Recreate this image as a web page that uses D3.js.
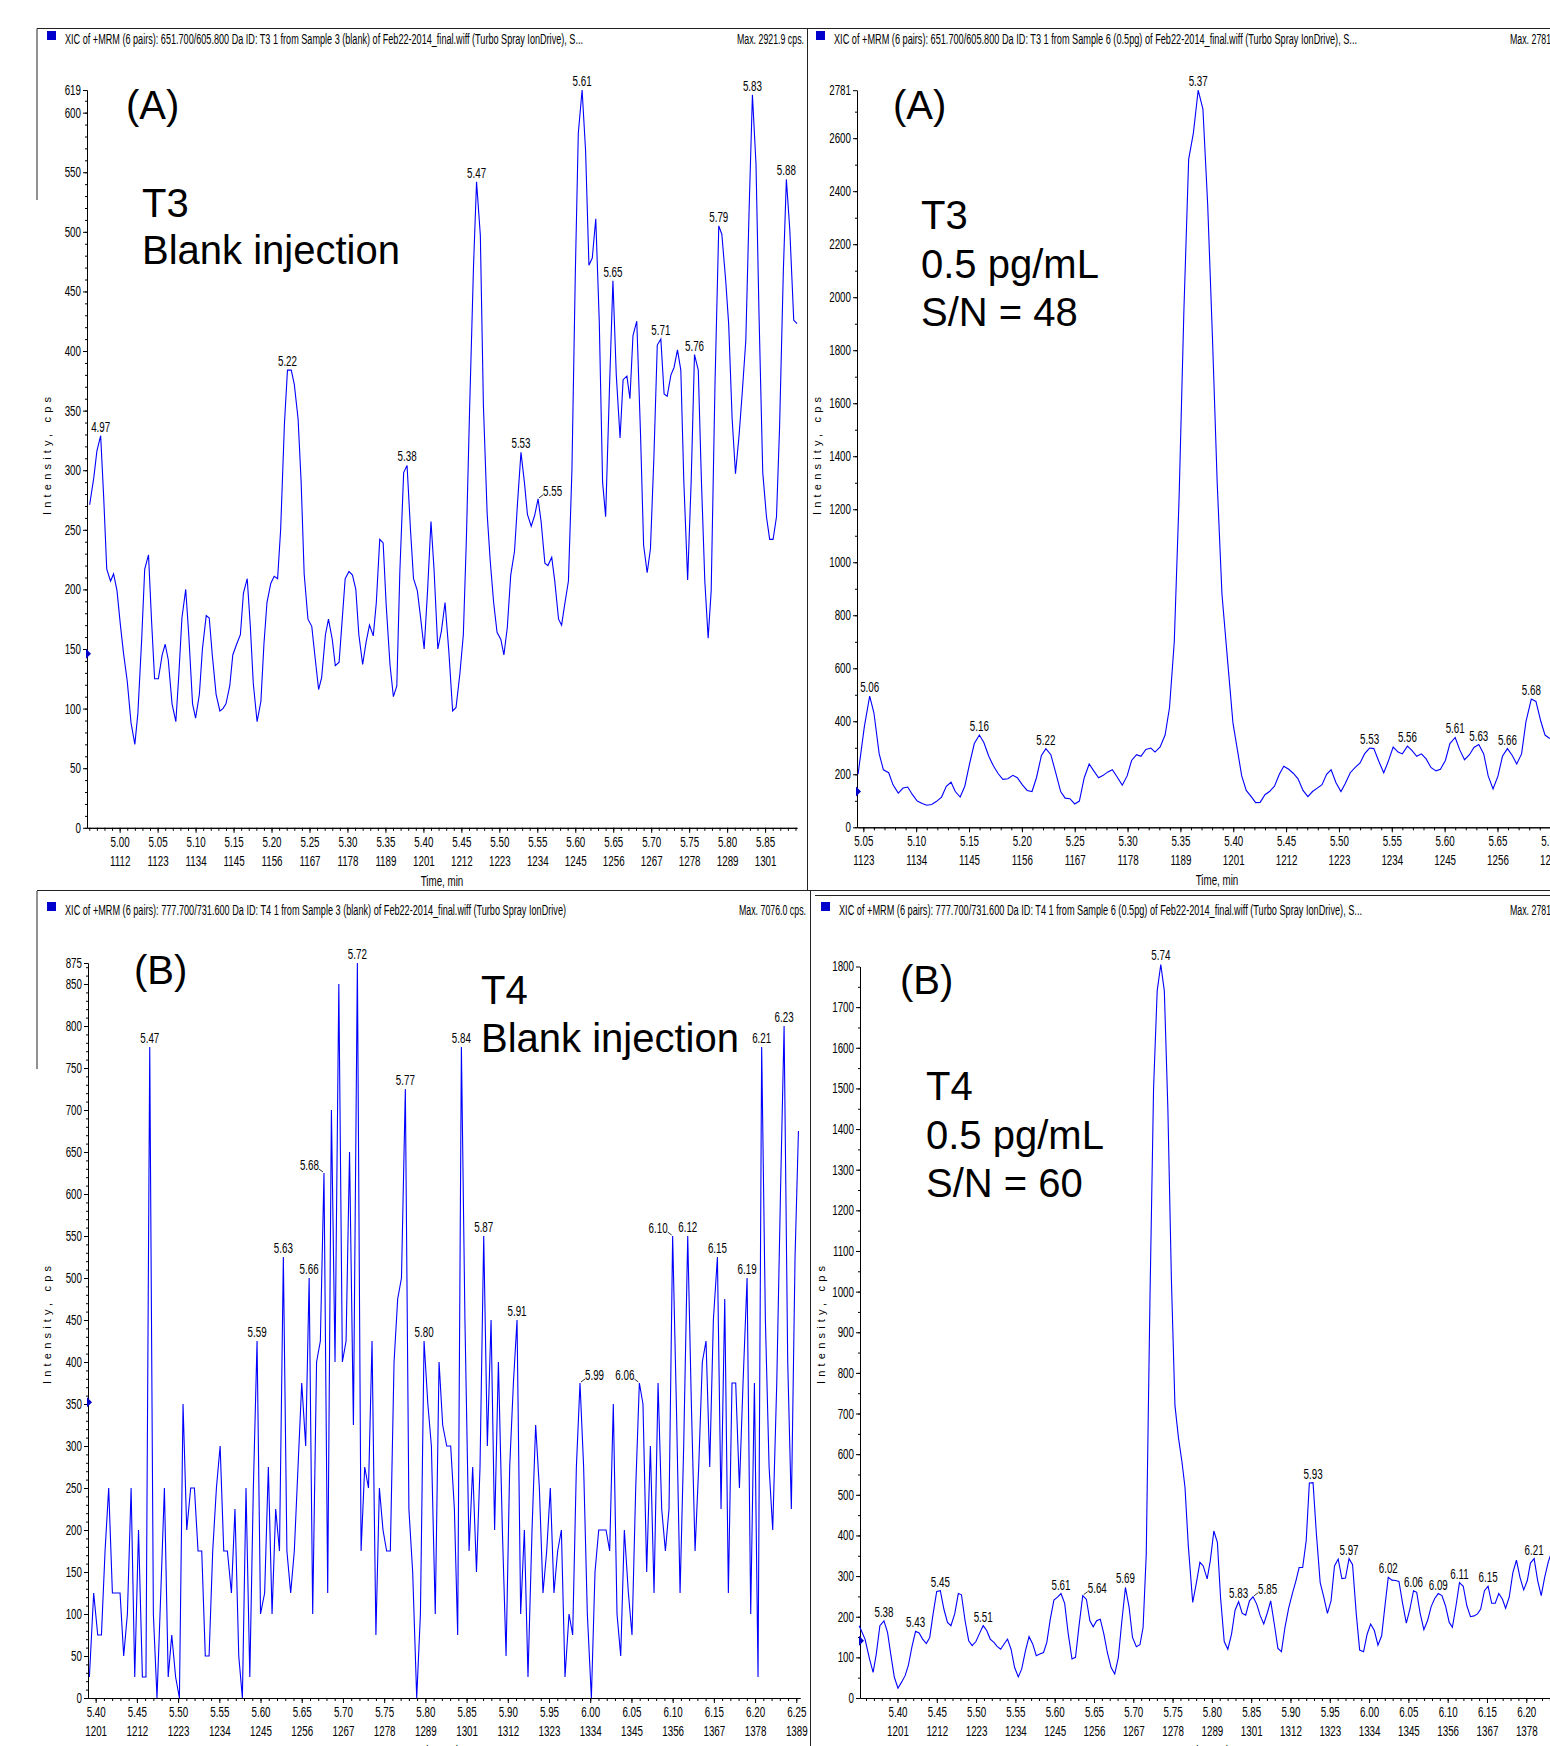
<!DOCTYPE html>
<html>
<head>
<meta charset="utf-8">
<script src="https://cdn.jsdelivr.net/npm/d3@7"></script>
<style>
  body { margin: 0; background: #fff; }
  text { font-family: "Liberation Sans", Arial, sans-serif; }
</style>
</head>
<body>
<div id="chart"></div>
<script>
// ---- data: [time (min), intensity (cps)] ----
const t3Blank = [
  [4.9605,271],[4.966,294],[4.970,316],[4.975,329],[4.979,277],[4.983,217],[4.988,207],[4.992,213],[4.9965,199],
  [5.001,170],[5.005,147],[5.010,123],[5.015,88],[5.020,70],[5.024,96],[5.029,158],[5.033,217],[5.038,229],
  [5.042,174],[5.046,125],[5.051,125],[5.056,145],[5.060,154],[5.064,141],[5.069,104],[5.074,89],[5.078,129],
  [5.082,176],[5.087,200],[5.091,162],[5.096,104],[5.100,92],[5.105,112],[5.109,150],[5.114,178],[5.118,176],
  [5.122,145],[5.127,112],[5.132,98],[5.136,100],[5.140,104],[5.145,119],[5.149,145],[5.154,154],[5.159,162],
  [5.163,197],[5.168,209],[5.172,170],[5.176,121],[5.181,89],[5.186,106],[5.190,154],[5.194,189],[5.199,205],
  [5.2035,211],[5.208,209],[5.212,250],[5.217,339],[5.221,384],[5.226,384],[5.230,372],[5.235,343],[5.239,290],
  [5.243,213],[5.248,175],[5.253,169],[5.257,145],[5.262,116],[5.266,126],[5.271,162],[5.275,175],[5.280,158],
  [5.284,136],[5.289,139],[5.293,174],[5.297,209],[5.302,215],[5.3066,212],[5.311,200],[5.315,162],[5.320,137],
  [5.3246,156],[5.329,170],[5.334,161],[5.338,189],[5.3425,242],[5.347,239],[5.351,187],[5.356,137],[5.3605,110],
  [5.365,119],[5.369,215],[5.374,298],[5.3785,304],[5.383,250],[5.387,209],[5.392,199],[5.396,178],[5.401,150],
  [5.4055,199],[5.410,257],[5.414,217],[5.419,150],[5.4237,165],[5.4285,189],[5.4335,148],[5.4385,98],[5.443,101],
  [5.448,129],[5.4526,162],[5.4566,242],[5.461,355],[5.466,471],[5.470,542],[5.475,497],[5.479,355],[5.484,263],
  [5.488,224],[5.4925,189],[5.497,164],[5.502,158],[5.506,145],[5.5105,168],[5.515,212],[5.520,232],[5.524,273],
  [5.5285,315],[5.533,290],[5.537,263],[5.542,253],[5.5465,262],[5.551,276],[5.555,257],[5.560,222],[5.564,220],
  [5.569,227],[5.573,207],[5.578,175],[5.582,170],[5.586,187],[5.591,207],[5.5956,300],[5.600,463],[5.604,583],
  [5.609,619],[5.6136,568],[5.618,472],[5.6224,478],[5.627,511],[5.6316,425],[5.636,290],[5.640,261],[5.645,368],
  [5.6496,459],[5.654,380],[5.659,327],[5.663,376],[5.668,379],[5.672,360],[5.676,413],[5.681,425],[5.686,329],
  [5.690,237],[5.6947,214],[5.699,234],[5.7035,310],[5.708,405],[5.7127,410],[5.717,364],[5.721,362],[5.726,380],
  [5.730,386],[5.7346,401],[5.739,384],[5.743,290],[5.748,208],[5.7526,290],[5.757,397],[5.762,384],[5.766,294],
  [5.7706,207],[5.775,159],[5.779,199],[5.784,372],[5.789,505],[5.793,498],[5.798,460],[5.802,423],[5.8066,343],
  [5.811,297],[5.8157,329],[5.820,366],[5.8246,409],[5.829,520],[5.8333,615],[5.838,557],[5.842,430],[5.8469,298],
  [5.8518,261],[5.856,242],[5.8605,242],[5.865,261],[5.869,335],[5.874,467],[5.878,544],[5.8825,502],[5.8877,426],
  [5.892,423]
];

const t3Spiked = [
  [5.045,200],[5.051,381],[5.056,495],[5.060,432],[5.065,277],[5.069,217],[5.074,206],[5.078,161],[5.083,129],
  [5.0876,148],[5.092,152],[5.0965,123],[5.101,99],[5.1057,90],[5.110,83],[5.1146,86],[5.119,97],[5.124,114],
  [5.1285,155],[5.133,170],[5.137,135],[5.1416,114],[5.146,155],[5.1505,239],[5.155,316],[5.1598,348],[5.164,320],
  [5.1687,268],[5.173,232],[5.1775,203],[5.182,181],[5.1868,183],[5.1915,196],[5.1957,187],[5.2003,161],[5.205,139],
  [5.2096,135],[5.2138,187],[5.2185,271],[5.2227,297],[5.2274,274],[5.232,206],[5.2367,135],[5.2409,110],[5.2455,108],
  [5.250,88],[5.2544,99],[5.259,187],[5.2637,239],[5.268,213],[5.2726,187],[5.277,196],[5.2814,209],[5.2856,217],
  [5.290,191],[5.295,159],[5.2996,194],[5.3038,252],[5.3085,274],[5.3127,268],[5.3173,294],[5.322,299],[5.326,284],
  [5.3308,303],[5.3355,348],[5.3397,452],[5.3442,700],[5.3488,1250],[5.3533,1950],[5.3578,2520],[5.3623,2620],
  [5.3668,2781],[5.3713,2710],[5.3758,2350],[5.3803,1850],[5.3848,1300],[5.3893,880],[5.3954,594],[5.3997,394],
  [5.404,290],[5.408,194],[5.4123,139],[5.417,116],[5.4212,93],[5.4254,94],[5.430,123],[5.4343,135],[5.439,155],
  [5.4436,200],[5.4478,230],[5.4525,219],[5.457,203],[5.4613,183],[5.466,139],[5.4706,116],[5.475,135],[5.4795,148],
  [5.484,161],[5.4883,200],[5.4926,217],[5.4972,168],[5.5019,135],[5.506,165],[5.5107,206],[5.5154,226],[5.52,243],
  [5.5242,277],[5.529,299],[5.533,297],[5.5378,248],[5.5424,206],[5.5466,248],[5.5513,303],[5.556,284],[5.560,277],
  [5.5648,306],[5.569,290],[5.5736,268],[5.578,277],[5.5825,258],[5.587,226],[5.5918,213],[5.596,219],[5.6007,252],
  [5.605,316],[5.61,339],[5.6142,293],[5.6188,255],[5.6235,274],[5.6277,301],[5.6323,312],[5.637,277],[5.6412,194],
  [5.6458,145],[5.6505,194],[5.6547,268],[5.6594,297],[5.664,271],[5.6682,239],[5.6728,277],[5.677,400],[5.682,484],
  [5.6864,475],[5.691,400],[5.695,348],[5.6995,335]
];

const t4Blank = [
  [5.3924,25],[5.3976,125],[5.4025,75],[5.407,75],[5.4114,175],[5.4158,250],[5.4203,125],[5.4247,125],[5.4296,125],
  [5.434,50],[5.4385,100],[5.443,250],[5.4474,25],[5.452,200],[5.4567,25],[5.461,25],[5.4656,775],[5.470,100],
  [5.4744,0],[5.479,125],[5.4834,250],[5.488,25],[5.4923,75],[5.497,25],[5.5016,0],[5.506,350],[5.5105,200],
  [5.5153,250],[5.5198,250],[5.5242,175],[5.5287,175],[5.533,50],[5.5376,50],[5.542,175],[5.5465,250],[5.551,300],
  [5.5554,175],[5.5598,175],[5.5647,125],[5.569,225],[5.5736,50],[5.578,0],[5.5824,250],[5.587,25],[5.5913,250],
  [5.5958,425],[5.6,100],[5.605,125],[5.6095,275],[5.614,100],[5.6184,225],[5.623,175],[5.6277,525],[5.632,175],
  [5.6366,125],[5.641,175],[5.6455,275],[5.65,375],[5.6548,300],[5.659,500],[5.6633,100],[5.668,400],[5.6726,425],
  [5.677,625],[5.6815,125],[5.686,700],[5.6904,400],[5.695,850],[5.6993,400],[5.7038,425],[5.708,650],[5.7127,325],
  [5.7175,875],[5.722,175],[5.7264,275],[5.731,250],[5.7353,425],[5.74,75],[5.7442,250],[5.7486,200],[5.753,175],
  [5.7575,175],[5.762,400],[5.7664,475],[5.771,500],[5.7757,725],[5.780,225],[5.7846,150],[5.7895,0],[5.794,100],
  [5.7984,425],[5.803,350],[5.8073,300],[5.812,100],[5.8166,400],[5.821,325],[5.8259,300],[5.8307,300],[5.8352,225],
  [5.8392,75],[5.8437,775],[5.848,450],[5.853,175],[5.8574,275],[5.862,150],[5.8663,275],[5.8708,550],[5.8752,300],
  [5.8797,450],[5.884,200],[5.8886,400],[5.8934,200],[5.8979,50],[5.9023,275],[5.9068,375],[5.9112,450],[5.9156,100],
  [5.9201,200],[5.9245,25],[5.9294,200],[5.9338,325],[5.9383,250],[5.9427,125],[5.9472,175],[5.9516,250],[5.956,125],
  [5.9605,175],[5.965,200],[5.9694,25],[5.9743,100],[5.9787,75],[5.9832,275],[5.9876,375],[5.992,275],[5.9965,100],
  [6.0014,0],[6.0058,150],[6.0103,200],[6.0147,200],[6.0192,200],[6.0236,175],[6.028,350],[6.0325,100],[6.037,50],
  [6.0414,200],[6.0463,125],[6.0507,75],[6.0552,250],[6.0596,375],[6.064,350],[6.0685,150],[6.073,300],[6.0774,125],
  [6.0823,375],[6.0867,225],[6.0912,175],[6.0956,225],[6.1,550],[6.1045,350],[6.109,125],[6.1134,300],[6.1183,550],
  [6.1227,350],[6.1272,175],[6.1316,275],[6.136,400],[6.1405,425],[6.145,275],[6.1494,450],[6.1543,525],[6.1587,225],
  [6.1632,475],[6.1676,125],[6.172,375],[6.1765,375],[6.181,250],[6.1854,375],[6.1903,500],[6.1947,100],[6.1992,375],
  [6.2036,25],[6.208,775],[6.2125,450],[6.217,275],[6.2214,200],[6.2263,375],[6.2308,600],[6.2352,800],[6.2396,400],
  [6.244,225],[6.2485,525],[6.2526,675]
];

const t4Spiked = [
  [5.3513,178],[5.3587,145],[5.3644,96],[5.369,63],[5.373,108],[5.3776,178],[5.3828,190],[5.3874,161],[5.3914,108],
  [5.396,51],[5.4006,24],[5.4052,39],[5.4097,55],[5.4138,80],[5.4183,125],[5.423,164],[5.4275,160],[5.432,145],
  [5.4367,134],[5.441,149],[5.4453,207],[5.4499,262],[5.4545,264],[5.459,219],[5.4636,186],[5.468,178],[5.4728,207],
  [5.4774,257],[5.4814,254],[5.486,190],[5.4906,141],[5.495,129],[5.4998,139],[5.5044,159],[5.509,178],[5.5135,166],
  [5.518,145],[5.5227,137],[5.5267,127],[5.5313,120],[5.536,134],[5.540,145],[5.5445,120],[5.549,75],[5.5537,52],
  [5.558,71],[5.5628,116],[5.5674,151],[5.572,133],[5.5766,104],[5.581,108],[5.5858,112],[5.590,137],[5.5944,194],
  [5.599,241],[5.6036,248],[5.608,257],[5.6127,233],[5.6173,157],[5.622,96],[5.6265,100],[5.631,178],[5.6357,252],
  [5.6403,243],[5.6448,190],[5.649,175],[5.6534,190],[5.658,194],[5.6626,157],[5.667,112],[5.6718,75],[5.6764,59],
  [5.681,100],[5.6855,190],[5.690,272],[5.6947,223],[5.699,149],[5.7039,126],[5.7085,131],[5.7125,174],[5.7165,354],
  [5.7212,980],[5.7258,1500],[5.7304,1740],[5.735,1805],[5.7395,1740],[5.744,1450],[5.7485,1030],[5.753,720],
  [5.7575,640],[5.762,580],[5.7658,518],[5.770,375],[5.7756,235],[5.780,280],[5.7848,334],[5.789,325],[5.794,293],
  [5.798,338],[5.8025,411],[5.807,383],[5.811,248],[5.8157,139],[5.8203,120],[5.825,157],[5.8295,216],[5.834,237],
  [5.8386,208],[5.843,204],[5.8478,239],[5.8524,249],[5.857,231],[5.8616,202],[5.866,182],[5.8708,211],[5.8748,239],
  [5.8794,182],[5.884,122],[5.8885,114],[5.893,174],[5.8977,221],[5.9023,256],[5.907,289],[5.911,321],[5.9155,321],
  [5.920,387],[5.924,529],[5.9287,530],[5.933,403],[5.9378,284],[5.9424,248],[5.947,208],[5.9516,239],[5.956,325],
  [5.9607,342],[5.9654,294],[5.970,295],[5.9745,343],[5.979,328],[5.9837,207],[5.988,118],[5.993,114],[5.9975,157],
  [6.002,182],[6.0067,166],[6.0113,130],[6.016,153],[6.020,223],[6.0244,297],[6.029,290],[6.0336,289],[6.038,287],
  [6.0428,231],[6.0474,184],[6.052,219],[6.0565,264],[6.0606,260],[6.065,208],[6.0697,168],[6.0743,190],[6.079,225],
  [6.0835,245],[6.088,257],[6.0927,252],[6.0972,227],[6.102,186],[6.106,174],[6.1106,227],[6.115,284],[6.1198,275],
  [6.1244,227],[6.129,200],[6.1336,202],[6.138,207],[6.142,219],[6.1468,264],[6.1514,275],[6.156,233],[6.1605,233],
  [6.165,257],[6.1697,243],[6.1737,221],[6.1783,248],[6.183,309],[6.1875,339],[6.192,297],[6.1967,266],[6.2013,289],
  [6.2053,332],[6.21,343],[6.2145,289],[6.219,252],[6.2234,297],[6.228,335],[6.2326,362],[6.237,399]
];

// peak labels: [text, time of the labelled scan]
const t3BlankPeaks = [["4.97",4.975],["5.22",5.221],["5.38",5.3785],["5.47",5.470],["5.53",5.5285],["5.55",5.551],
  ["5.61",5.609],["5.65",5.6496],["5.71",5.7127],["5.76",5.757],["5.79",5.789],["5.83",5.8333],["5.88",5.878]];
const t3SpikedPeaks = [["5.06",5.056],["5.16",5.1598],["5.22",5.2227],["5.37",5.3668],["5.53",5.529],["5.56",5.5648],
  ["5.61",5.61],["5.63",5.6323],["5.66",5.6594],["5.68",5.682]];
const t4BlankPeaks = [["5.47",5.4656],["5.59",5.5958],["5.63",5.6277],["5.66",5.659],["5.68",5.677],["5.72",5.7175],
  ["5.77",5.7757],["5.80",5.7984],["5.84",5.8437],["5.87",5.8708],["5.91",5.9112],["5.99",5.9876],["6.06",6.0596],
  ["6.10",6.1],["6.12",6.1183],["6.15",6.1543],["6.19",6.1903],["6.21",6.208],["6.23",6.2352]];
const t4SpikedPeaks = [["5.38",5.3828],["5.43",5.423],["5.45",5.4545],["5.51",5.509],["5.61",5.608],["5.64",5.6357],
  ["5.69",5.690],["5.74",5.735],["5.83",5.834],["5.85",5.8524],["5.93",5.9287],["5.97",5.9745],["6.02",6.0244],
  ["6.06",6.0565],["6.09",6.088],["6.11",6.115],["6.15",6.1514],["6.21",6.21]];

// axis tick labels
const t3BlankTimeTicks = [5.00,5.05,5.10,5.15,5.20,5.25,5.30,5.35,5.40,5.45,5.50,5.55,5.60,5.65,5.70,5.75,5.80,5.85];
const t3BlankScanTicks = [1112,1123,1134,1145,1156,1167,1178,1189,1201,1212,1223,1234,1245,1256,1267,1278,1289,1301];
const t3SpikedTimeTicks = [5.05,5.10,5.15,5.20,5.25,5.30,5.35,5.40,5.45,5.50,5.55,5.60,5.65,5.70];
const t3SpikedScanTicks = [1123,1134,1145,1156,1167,1178,1189,1201,1212,1223,1234,1245,1256,1267];
const t4TimeTicks = [5.40,5.45,5.50,5.55,5.60,5.65,5.70,5.75,5.80,5.85,5.90,5.95,6.00,6.05,6.10,6.15,6.20,6.25];
const t4ScanTicks = [1201,1212,1223,1234,1245,1256,1267,1278,1289,1301,1312,1323,1334,1345,1356,1367,1378,1389];
const t3BlankIntensityTicks = [0,50,100,150,200,250,300,350,400,450,500,550,600,619];
const t3SpikedIntensityTicks = [0,200,400,600,800,1000,1200,1400,1600,1800,2000,2200,2400,2600,2781];
const t4BlankIntensityTicks = [0,50,100,150,200,250,300,350,400,450,500,550,600,650,700,750,800,850,875];
const t4SpikedIntensityTicks = [0,100,200,300,400,500,600,700,800,900,1000,1100,1200,1300,1400,1500,1600,1700,1800];

const headers = [
  "XIC of +MRM (6 pairs): 651.700/605.800 Da ID: T3 1 from Sample 3 (blank) of Feb22-2014_final.wiff (Turbo Spray IonDrive), S...",
  "XIC of +MRM (6 pairs): 651.700/605.800 Da ID: T3 1 from Sample 6 (0.5pg) of Feb22-2014_final.wiff (Turbo Spray IonDrive), S...",
  "XIC of +MRM (6 pairs): 777.700/731.600 Da ID: T4 1 from Sample 3 (blank) of Feb22-2014_final.wiff (Turbo Spray IonDrive)",
  "XIC of +MRM (6 pairs): 777.700/731.600 Da ID: T4 1 from Sample 6 (0.5pg) of Feb22-2014_final.wiff (Turbo Spray IonDrive), S..."
];
const maxLabels = ["Max. 2921.9 cps.", "Max. 2781.0 cps.", "Max. 7076.0 cps.", "Max. 2781.0 cps."];
const thresholdLevels = [146, 135, 352, 141];

const width = 1550, height = 1746;
const NARROW = 0.7;
const BLUE = "#0000ff";

const svg = d3.select("#chart").append("svg")
  .attr("width", width)
  .attr("height", height);

// frame lines around the four panels
const frame = svg.append("g").attr("stroke", "#222").attr("stroke-width", 1).attr("fill", "none");
[[37, 28.5, 1550, 28.5], [37, 28.5, 37, 200], [807.5, 28.5, 807.5, 891],
 [37, 890.5, 1550, 890.5], [815, 895.5, 1550, 895.5], [37, 891, 37, 1069], [810.5, 891, 810.5, 1746]]
  .forEach(l => frame.append("line").attr("x1", l[0]).attr("y1", l[1]).attr("x2", l[2]).attr("y2", l[3]));

function narrowText(g, x, y, txt, anchor, size) {
  return g.append("text")
    .attr("transform", `translate(${x},${y}) scale(${NARROW},1)`)
    .attr("text-anchor", anchor)
    .style("font-size", size + "px")
    .text(txt);
}

function drawPanel(p) {
  const g = svg.append("g");
  const x = d3.scaleLinear().domain(p.tDomain).range([p.left, p.right]);
  const y = d3.scaleLinear().domain([0, p.yMax]).range([p.bottom, p.top]);

  // header
  g.append("rect").attr("x", p.hx).attr("y", p.hy - 13).attr("width", 9).attr("height", 9).attr("fill", "#0000cc");
  g.append("text").attr("x", p.hx + 18).attr("y", p.hy)
    .attr("textLength", p.headerLen).attr("lengthAdjust", "spacingAndGlyphs")
    .style("font-size", "14px").text(p.header);
  g.append("text").attr("x", p.maxX).attr("y", p.hy)
    .attr("textLength", 67).attr("lengthAdjust", "spacingAndGlyphs")
    .style("font-size", "14px").text(p.maxText);

  // y axis: minor then major ticks
  g.append("g").attr("transform", `translate(${p.left},0)`)
    .call(d3.axisLeft(y).tickValues(d3.range(0, p.yMax, p.yMinor)).tickSize(2).tickSizeOuter(0).tickFormat(""));
  const ya = g.append("g").attr("transform", `translate(${p.left},0)`)
    .call(d3.axisLeft(y).tickValues(p.yTicks).tickSize(4).tickPadding(2).tickSizeOuter(0).tickFormat(d3.format("d")));
  ya.selectAll("text")
    .attr("x", -6 / NARROW)
    .attr("transform", `scale(${NARROW},1)`)
    .style("font-size", "14px")
    .style("font-family", "'Liberation Sans', Arial, sans-serif");

  // x axis: minor then major ticks, two rows of labels (time and scan)
  const minor = d3.range(Math.ceil(p.tDomain[0] * 100) / 100, p.tDomain[1], 0.01);
  g.append("g").attr("transform", `translate(0,${p.bottom})`)
    .call(d3.axisBottom(x).tickValues(minor).tickSize(3).tickSizeOuter(0).tickFormat(""));
  const xa = g.append("g").attr("transform", `translate(0,${p.bottom})`)
    .call(d3.axisBottom(x).tickValues(p.timeTicks).tickSize(5).tickPadding(4).tickSizeOuter(0).tickFormat(d3.format(".2f")));
  xa.selectAll("text")
    .attr("transform", `scale(${NARROW},1)`)
    .style("font-size", "14px")
    .style("font-family", "'Liberation Sans', Arial, sans-serif");
  xa.selectAll(".tick").append("text")
    .attr("fill", "currentColor")
    .attr("y", 38)
    .attr("transform", `scale(${NARROW},1)`)
    .style("font-size", "14px")
    .style("font-family", "'Liberation Sans', Arial, sans-serif")
    .text(d => p.scanTicks[p.timeTicks.indexOf(d)]);
  narrowText(g, p.titleX, p.bottom + 58, "Time, min", "middle", 14);

  // y axis title
  g.append("text")
    .attr("transform", `translate(${p.ytX},${p.ytY}) rotate(-90)`)
    .attr("text-anchor", "middle")
    .attr("textLength", 118).attr("lengthAdjust", "spacing")
    .style("font-size", "11px")
    .text("Intensity, cps");

  // threshold marker on the y axis
  const ty = y(p.threshold);
  g.append("path")
    .attr("d", `M${p.left - 1},${ty - 5}L${p.left + 4},${ty}L${p.left - 1},${ty + 5}Z`)
    .attr("fill", "#0000cc");

  // trace
  const line = d3.line().x(d => x(d[0])).y(d => y(d[1]));
  g.append("path").datum(p.series)
    .attr("d", line)
    .attr("fill", "none")
    .attr("stroke", BLUE)
    .attr("stroke-width", 1.1);

  // peak labels
  p.peaks.forEach(([txt, t]) => {
    const pt = p.series.reduce((a, b) => Math.abs(b[0] - t) < Math.abs(a[0] - t) ? b : a);
    const px = x(pt[0]), py = y(pt[1]);
    const side = p.leaders[txt] || 0;
    if (side === 0) {
      narrowText(g, px, py - 4, txt, "middle", 14);
    } else {
      g.append("line")
        .attr("x1", px + side).attr("y1", py - 1)
        .attr("x2", px + side * 5).attr("y2", py - 4)
        .attr("stroke", "#000").attr("stroke-width", 0.8);
      narrowText(g, px + side * 5, py - 3, txt, side > 0 ? "start" : "end", 14);
    }
  });

  // big annotations
  p.notes.forEach(n => {
    g.append("text").attr("x", n[0]).attr("y", n[1])
      .style("font-size", "40px")
      .text(n[2]);
  });
}

drawPanel({
  series: t3Blank, peaks: t3BlankPeaks, leaders: {"5.55": 1},
  header: headers[0], maxText: maxLabels[0], threshold: thresholdLevels[0],
  hx: 47, hy: 44, headerLen: 518, maxX: 737,
  tDomain: [4.957, 5.892], left: 87, right: 797,
  yMax: 619, bottom: 827.8, top: 90, yTicks: t3BlankIntensityTicks, yMinor: 10,
  timeTicks: t3BlankTimeTicks, scanTicks: t3BlankScanTicks, titleX: 442,
  ytX: 51, ytY: 456,
  notes: [[126, 119, "(A)"], [142, 217, "T3"], [142, 264, "Blank injection"]]
});

drawPanel({
  series: t3Spiked, peaks: t3SpikedPeaks, leaders: {},
  header: headers[1], maxText: maxLabels[1], threshold: thresholdLevels[1],
  hx: 816, hy: 44, headerLen: 523, maxX: 1510,
  tDomain: [5.044, 5.747], left: 857, right: 1600,
  yMax: 2781, bottom: 827.3, top: 90.2, yTicks: t3SpikedIntensityTicks, yMinor: 100,
  timeTicks: t3SpikedTimeTicks, scanTicks: t3SpikedScanTicks, titleX: 1217,
  ytX: 821, ytY: 456,
  notes: [[893, 119, "(A)"], [921, 229, "T3"], [921, 278, "0.5 pg/mL"], [921, 326, "S/N = 48"]]
});

drawPanel({
  series: t4Blank, peaks: t4BlankPeaks, leaders: {"5.68": -1, "5.99": 1, "6.06": -1, "6.10": -1},
  header: headers[2], maxText: maxLabels[2], threshold: thresholdLevels[2],
  hx: 47, hy: 915, headerLen: 501, maxX: 739,
  tDomain: [5.3907, 6.2545], left: 88, right: 800,
  yMax: 875, bottom: 1698, top: 963, yTicks: t4BlankIntensityTicks, yMinor: 10,
  timeTicks: t4TimeTicks, scanTicks: t4ScanTicks, titleX: 442,
  ytX: 51, ytY: 1325,
  notes: [[134, 984, "(B)"], [481, 1004, "T4"], [481, 1052, "Blank injection"]]
});

drawPanel({
  series: t4Spiked, peaks: t4SpikedPeaks, leaders: {"5.64": 1, "5.85": 1},
  header: headers[3], maxText: maxLabels[3], threshold: thresholdLevels[3],
  hx: 821, hy: 915, headerLen: 523, maxX: 1510,
  tDomain: [5.3523, 6.2938], left: 860, right: 1600,
  yMax: 1800, bottom: 1698, top: 966.5, yTicks: t4SpikedIntensityTicks, yMinor: 50,
  timeTicks: t4TimeTicks, scanTicks: t4ScanTicks, titleX: 1212,
  ytX: 825, ytY: 1325,
  notes: [[900, 994, "(B)"], [926, 1100, "T4"], [926, 1149, "0.5 pg/mL"], [926, 1197, "S/N = 60"]]
});
</script>
</body>
</html>
